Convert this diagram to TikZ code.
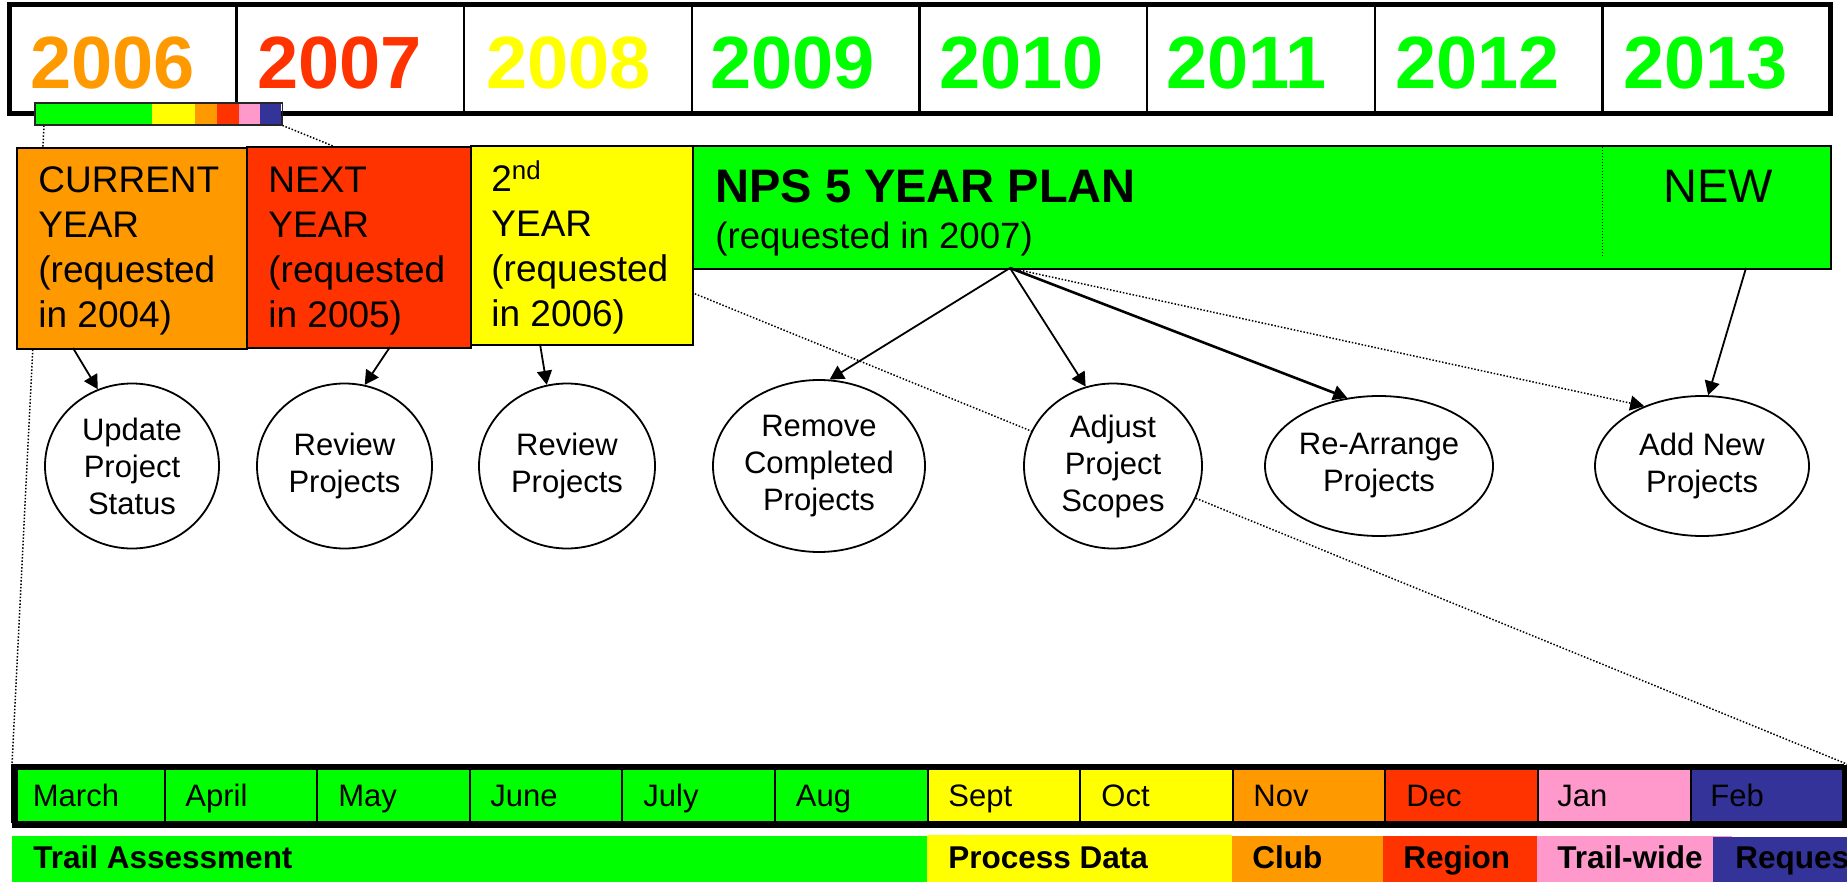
\documentclass[tikz,border=0pt]{standalone}
\usepackage{fontspec}
\setmainfont{Liberation Sans}
\usetikzlibrary{arrows.meta,shapes.geometric,calc}
\definecolor{cgreen}{HTML}{00FF00}
\definecolor{cyellow}{HTML}{FFFF00}
\definecolor{corange}{HTML}{FF9900}
\definecolor{cred}{HTML}{FF3300}
\definecolor{cpink}{HTML}{FF99CC}
\definecolor{cnavy}{HTML}{333399}
\begin{document}
\begin{tikzpicture}[x=0.5pt,y=-0.5pt,
  yeartxt/.style={anchor=base west, inner sep=0, font=\fontsize{37}{40}\selectfont\bfseries},
  boxtxt/.style={anchor=base west, inner sep=0, font=\fontsize{18.5}{22.5}\selectfont},
  ell/.style={ellipse, draw, line width=0.9pt, fill=white, inner sep=0, align=center, font=\fontsize{15.5}{18.5}\selectfont},
  monthtxt/.style={anchor=base west, inner sep=0, font=\fontsize{15.5}{18}\selectfont},
  bandtxt/.style={anchor=base west, inner sep=0, font=\fontsize{15.75}{18}\selectfont\bfseries},
  plan/.style={draw=black, line width=1pt, anchor=north west, inner sep=0},
  guide/.style={line width=0.75pt, dash pattern=on 0.75pt off 0.9pt},
  arr/.style={line width=0.9pt, -{Triangle[length=7pt,width=7.5pt]}},
]
\useasboundingbox (0,0) rectangle (1847,882);
\clip (0,0) rectangle (1847,882);

% ---------- bottom month bar ----------
\foreach \l/\r/\c in {12/164.6/cgreen,164.6/317.2/cgreen,317.2/469.8/cgreen,469.8/622.4/cgreen,622.4/775/cgreen,775/927.6/cgreen,927.6/1080.2/cyellow,1080.2/1232.8/cyellow,1232.8/1385.4/corange,1385.4/1538/cred,1538/1690.6/cpink,1690.6/1842.5/cnavy}
  {\filldraw[fill=\c, draw=black, line width=1pt] (\l,764.5) rectangle (\r,822);}
\node[draw, line width=2.75pt, minimum width=915.25pt, minimum height=28.75pt, anchor=north west, inner sep=0] (mbar) at (12,764.5) {};
\foreach \x/\m/\n in {32.5/March/mmar,185/April/mapr,338/May/mmay,490/June/mjun,643/July/mjul,795.5/Aug/maug,948/Sept/msep,1101/Oct/moct,1253/Nov/mnov,1406/Dec/mdec,1557/Jan/mjan,1710/Feb/mfeb}
  {\node[monthtxt] (\n) at (\x,806) {\m};}

% ---------- bottom band ----------
\fill[cgreen] (12,836) rectangle (927,890);
\fill[cyellow] (927,835) rectangle (1232,890);
\fill[corange] (1232,836) rectangle (1383,890);
\fill[cred] (1383,836) rectangle (1537,890);
\fill[cpink] (1537,836) rectangle (1732,890);
\fill[cnavy] (1713,837) rectangle (1860,890);
\node[bandtxt] (b1) at (33,868) {Trail Assessment};
\node[bandtxt] (b2) at (948,868) {Process Data};
\node[bandtxt] (b3) at (1252,868) {Club};
\node[bandtxt] (b4) at (1403,868) {Region};
\node[bandtxt] (b5) at (1557,868) {Trail-wide};
\node[bandtxt] (b6) at (1735,868) {Reques};

% ---------- mini bar ----------
\node[draw=black!85, line width=0.7pt, minimum width=123pt, minimum height=10.5pt, anchor=north west, inner sep=0] (mini) at (35,103) {};
\coordinate (gA) at ($(mini.south west)+(9,0)$);

% ---------- guide lines (behind) ----------
\draw[guide] (gA) -- (mbar.north west);
\draw[guide] (mini.south east) -- (mbar.north east);

% ---------- top year bar ----------
\fill[white] (9,5) rectangle (1830.5,114);
\foreach \x in {236.6,464,692,919.4,1147,1375,1602.6}
  {\draw[line width=1.15pt] (\x,5) -- (\x,114);}
\draw[line width=2.5pt] (9,5) rectangle (1830.5,114);
\node[yeartxt, text=corange] (y2006) at (30,89) {2006};
\node[yeartxt, text=cred] (y2007) at (257,89) {2007};
\node[yeartxt, text=cyellow] (y2008) at (486,89) {2008};
\node[yeartxt, text=cgreen] (y2009) at (710,89) {2009};
\node[yeartxt, text=cgreen] (y2010) at (939,89) {2010};
\node[yeartxt, text=cgreen] (y2011) at (1166,89) {2011};
\node[yeartxt, text=cgreen] (y2012) at (1395,89) {2012};
\node[yeartxt, text=cgreen] (y2013) at (1623,89) {2013};

% mini bar colours
\fill[cgreen] (35,103) rectangle (152,124);
\fill[cyellow] (152,103) rectangle (195,124);
\fill[corange] (195,103) rectangle (217,124);
\fill[cred] (217,103) rectangle (239,124);
\fill[cpink] (239,103) rectangle (260,124);
\fill[cnavy] (260,103) rectangle (281,124);
\draw[black!85, line width=0.7pt] (mini.north west) rectangle (mini.south east);

% ---------- plan boxes ----------
\node[plan, fill=corange, minimum width=115pt, minimum height=100.5pt] (cur) at (16,147) {};
\node[plan, fill=cred, minimum width=112pt, minimum height=100.5pt] (nxt) at (246,146) {};
\node[plan, fill=cyellow, minimum width=111pt, minimum height=99.5pt] (snd) at (470,145) {};
\node[plan, fill=cgreen, minimum width=569pt, minimum height=61.5pt] (nps) at (692,145) {};
\node[boxtxt] (curt) at (38,193) {\parbox[t]{105pt}{\raggedright CURRENT\\YEAR\\(requested\\in 2004)}};
\node[boxtxt] (nxtt) at (268,193) {\parbox[t]{105pt}{\raggedright NEXT\\YEAR\\(requested\\in 2005)}};
\node[boxtxt] (sndt) at (491,192) {\parbox[t]{105pt}{\raggedright 2\textsuperscript{nd}\\YEAR\\(requested\\in 2006)}};
\node[boxtxt, font=\fontsize{23.5}{28}\selectfont\bfseries] (npst) at (715,203) {NPS 5 YEAR PLAN};
\node[boxtxt, font=\fontsize{18.3}{22}\selectfont] (npsr) at (715,249) {(requested in 2007)};
\node[boxtxt, font=\fontsize{23.5}{28}\selectfont] (newt) at (1663,203) {NEW};
\draw[line width=0.5pt, dash pattern=on 0.5pt off 1pt] (1602,147) -- (1602,257);

% ---------- ellipses ----------
\node[ell, minimum width=87pt, minimum height=82.5pt] (upd) at (132,466) {Update\\Project\\Status};
\node[ell, minimum width=87.5pt, minimum height=82.5pt] (rev1) at (344.5,466) {Review\\Projects};
\node[ell, minimum width=88pt, minimum height=82.5pt] (rev2) at (567,466) {Review\\Projects};
\node[ell, minimum width=96pt, minimum height=86pt] (rem) at (819,466) {Remove\\Completed\\Projects};
\node[ell, minimum width=89pt, minimum height=82.5pt] (adj) at (1113,466) {Adjust\\Project\\Scopes};
\node[ell, minimum width=114pt, minimum height=70pt] (rea) at (1379,466) {Re-Arrange\\Projects};
\node[ell, minimum width=107pt, minimum height=70pt] (addn) at (1702,466) {Add New\\Projects};

% ---------- arrows ----------
\coordinate (s1) at (73,348);
\coordinate (s2) at (390,347);
\coordinate (s3) at (540,344);
\coordinate (s4) at (1010,268);
\coordinate (s5) at (1746,268);
\draw[arr] (s1) -- (upd.114);
\draw[arr] (s2) -- (rev1.76);
\draw[arr] (s3) -- (rev2.104.7);
\draw[arr] (s4) -- (rem.83);
\draw[arr] (s4) -- (adj.109.7);
\draw[arr, line width=1.3pt] (s4) -- (rea.115);
\draw[arr, line width=0.75pt, dash pattern=on 0.75pt off 0.9pt] (s4) -- (addn.134.5);
\draw[arr] (s5) -- (addn.85);
\end{tikzpicture}
\end{document}
